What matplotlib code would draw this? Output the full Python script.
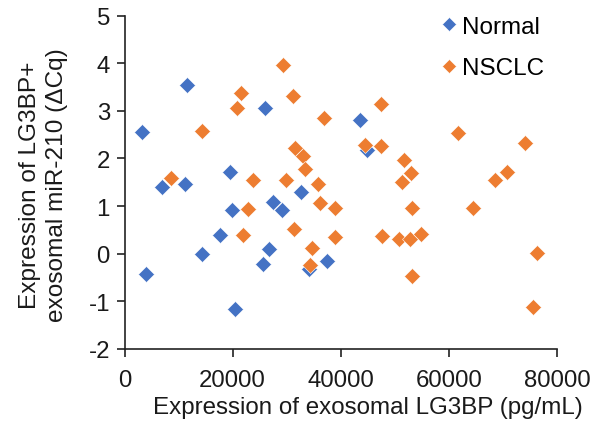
import matplotlib
matplotlib.use("Agg")
import matplotlib.pyplot as plt

plt.rcParams['font.family'] = ['Liberation Sans', 'DejaVu Sans']

normal_x = [11600, 26080, 3240, 19600, 7000, 11200, 32740, 43610, 44850, 27500,
            29110, 19960, 17690, 14300, 26820, 25590, 34110, 37440, 3980, 20400]
normal_y = [3.54, 3.05, 2.56, 1.72, 1.41, 1.46, 1.30, 2.80, 2.18, 1.08,
            0.91, 0.91, 0.40, -0.01, 0.10, -0.22, -0.33, -0.15, -0.43, -1.17]

nsclc_x = [29410, 21520, 31260, 20890, 36950, 14410, 31580, 33000, 33430, 8610,
           23860, 29900, 35780, 47380, 61760, 74050, 44420, 47500, 51640, 53060,
           51330, 68620, 70780, 22810, 36080, 38980, 22000, 31390, 38860, 34720,
           34230, 53120, 64410, 47630, 50710, 52740, 54850, 76340, 53120, 75530]
nsclc_y = [3.97, 3.37, 3.31, 3.06, 2.86, 2.57, 2.23, 2.05, 1.78, 1.60,
           1.55, 1.55, 1.47, 3.14, 2.53, 2.32, 2.28, 2.27, 1.97, 1.69,
           1.51, 1.55, 1.71, 0.94, 1.06, 0.96, 0.40, 0.51, 0.36, 0.12,
           -0.23, 0.96, 0.96, 0.38, 0.30, 0.30, 0.42, 0.01, -0.47, -1.12]

x_ticks = [0, 20000, 40000, 60000, 80000]
y_ticks = [-2, -1, 0, 1, 2, 3, 4, 5]

fig = plt.figure(figsize=(6.0, 4.31), dpi=100)
ax = fig.add_axes([0.2075, 0.188, 0.7208, 0.7735])

ms = 8.6
ax.plot(normal_x, normal_y, linestyle='none', marker='D', markersize=ms,
        color='#4472C4', markeredgecolor='white', markeredgewidth=0.4, label='Normal')
ax.plot(nsclc_x, nsclc_y, linestyle='none', marker='D', markersize=ms,
        color='#ED7D31', markeredgecolor='white', markeredgewidth=0.4, label='NSCLC')

ax.set_xlim(0, 80000)
ax.set_ylim(-2, 5)
ax.set_xticks(x_ticks)
ax.set_yticks(y_ticks)
ax.set_xticklabels([str(v) for v in x_ticks])
ax.set_yticklabels([str(v) for v in y_ticks])

for s in ['top', 'right']:
    ax.spines[s].set_visible(False)
for s in ['left', 'bottom']:
    ax.spines[s].set_color('#222222')
    ax.spines[s].set_linewidth(1.2)

ax.tick_params(axis='both', direction='out', length=5.5, width=1.2, color='#222222',
               labelsize=17.3, labelcolor='#1a1a1a')
ax.tick_params(axis='x', pad=9)
ax.tick_params(axis='y', pad=5)

fig.text(367.5 / 600, (431 - 414) / 431, 'Expression of exosomal LG3BP (pg/mL)',
         fontsize=17.4, color='#1a1a1a', ha='center', va='baseline')
fig.text(43.4 / 600, 0.571, 'Expression of LG3BP+\nexosomal miR-210 (\u0394Cq)',
         fontsize=17.6, color='#1a1a1a', rotation=90, ha='center', va='center',
         multialignment='center', linespacing=1.3)

leg = ax.legend(loc='upper left', bbox_to_anchor=(0.693, 1.05), frameon=False,
                fontsize=17.5, handlelength=0.6, handletextpad=0.25,
                labelspacing=0.8, markerscale=0.85, borderpad=0.2)

fig.savefig('out.png', dpi=100)
